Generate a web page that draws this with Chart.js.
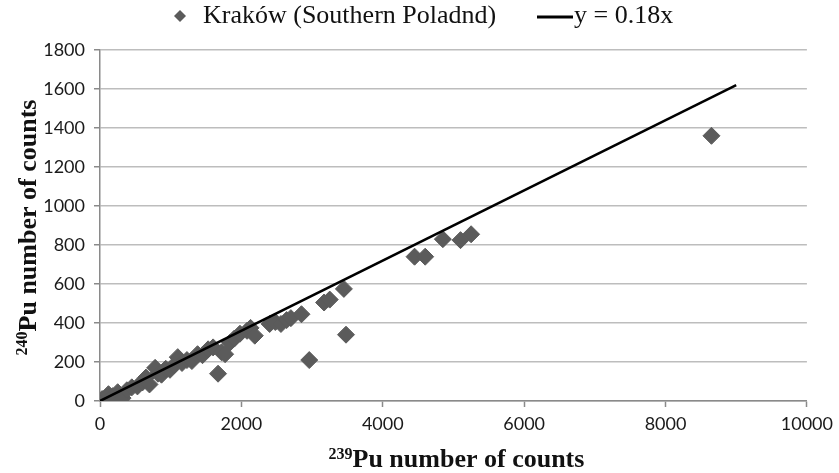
<!DOCTYPE html>
<html>
<head>
<meta charset="utf-8">
<script src="https://cdn.jsdelivr.net/npm/chart.js@4.4.1/dist/chart.umd.min.js"></script>
<style>
  html, body { margin: 0; padding: 0; background: #ffffff; }
  #wrap { width: 839px; height: 473px; }
</style>
</head>
<body>
<div id="wrap"><canvas id="c" width="839" height="473"></canvas></div>
<script>
// ---- data ----
const seriesName = "Kraków (Southern Poladnd)";
const lineName = "y = 0.18x";
const pu239 = [0, 30, 80, 120, 180, 250, 320, 380, 450, 530, 600, 650, 700, 780, 820, 870, 930, 990, 1050, 1100,
               1160, 1230, 1300, 1380, 1450, 1530, 1600, 1670, 1720, 1770, 1840, 1900, 1980, 2080, 2130, 2190,
               2400, 2480, 2560, 2640, 2700, 2850, 2960, 3170, 3250, 3450, 3480, 4450, 4600, 4850, 5100, 5250, 8650];
const pu240 = [0, 10, 15, 35, 25, 45, 15, 55, 70, 75, 95, 120, 85, 170, 140, 135, 165, 160, 185, 225,
               195, 210, 205, 240, 235, 265, 275, 140, 250, 240, 300, 320, 345, 360, 375, 335,
               395, 405, 395, 415, 425, 445, 210, 505, 520, 575, 340, 740, 740, 830, 825, 855, 1360];
const fitX = [0, 9000];
const fitY = [0, 1620];
const xTickValues = [0, 2000, 4000, 6000, 8000, 10000];
const yTickValues = [0, 200, 400, 600, 800, 1000, 1200, 1400, 1600, 1800];
const xTitleSup = "239", xTitleMain = "Pu number of counts";
const yTitleSup = "240", yTitleMain = "Pu number of counts";

const pointColor = '#5b5b5b';

const points = pu239.map((x, i) => ({ x: x, y: pu240[i] }));
const fitPoints = fitX.map((x, i) => ({ x: x, y: fitY[i] }));

const decorPlugin = {
  id: 'decor',
  afterDraw(chart) {
    const ctx = chart.ctx;
    const area = chart.chartArea;
    ctx.save();
    // legend
    const ly = 16;
    ctx.fillStyle = pointColor;
    ctx.beginPath();
    ctx.moveTo(180, ly - 6); ctx.lineTo(186, ly); ctx.lineTo(180, ly + 6); ctx.lineTo(174, ly);
    ctx.closePath(); ctx.fill();
    ctx.font = "26px 'Liberation Serif'";
    ctx.fillStyle = '#111';
    ctx.textBaseline = 'middle';
    ctx.textAlign = 'left';
    ctx.fillText(seriesName, 203, ly);
    ctx.strokeStyle = '#000';
    ctx.lineWidth = 3;
    ctx.beginPath(); ctx.moveTo(537, ly + 1); ctx.lineTo(573, ly + 1); ctx.stroke();
    ctx.fillText(lineName, 574, ly);

    // x title
    ctx.textBaseline = 'alphabetic';
    const supFont = "bold 16px 'Liberation Serif'";
    const mainFont = "bold 26px 'Liberation Serif'";
    ctx.font = supFont; const sw = ctx.measureText(xTitleSup).width;
    ctx.font = mainFont; const mw = ctx.measureText(xTitleMain).width;
    const cx = (area.left + area.right) / 2 + 3;
    let sx = cx - (sw + mw) / 2;
    ctx.fillStyle = '#111';
    ctx.font = supFont; ctx.fillText(xTitleSup, sx, 459);
    ctx.font = mainFont; ctx.fillText(xTitleMain, sx + sw, 467);

    // y title (rotated)
    ctx.save();
    ctx.translate(36, (area.top + area.bottom) / 2 + 2);
    ctx.rotate(-Math.PI / 2);
    ctx.font = supFont; const sw2 = ctx.measureText(yTitleSup).width;
    ctx.font = mainFont; const mw2 = ctx.measureText(yTitleMain).width;
    let s2 = -(sw2 + mw2) / 2;
    ctx.font = supFont; ctx.fillText(yTitleSup, s2, -9);
    ctx.font = mainFont; ctx.fillText(yTitleMain, s2 + sw2, 0);
    ctx.restore();
    ctx.restore();
  }
};

new Chart(document.getElementById('c'), {
  type: 'scatter',
  data: {
    datasets: [
      {
        label: lineName,
        data: fitPoints,
        showLine: true,
        borderColor: '#000',
        borderWidth: 2.5,
        pointRadius: 0,
        pointHoverRadius: 0,
        fill: false
      },
      {
        label: seriesName,
        data: points,
        pointStyle: 'rectRot',
        pointRadius: 8.5,
        pointHoverRadius: 8.5,
        backgroundColor: pointColor,
        borderColor: pointColor,
        borderWidth: 1
      }
    ]
  },
  options: {
    responsive: false,
    devicePixelRatio: 1,
    animation: false,
    events: [],
    layout: { padding: { top: 50, right: 31, bottom: 0, left: 0 } },
    plugins: {
      legend: { display: false },
      tooltip: { enabled: false }
    },
    scales: {
      x: {
        type: 'linear',
        min: 0, max: 10000,
        afterFit(scale) { scale.height = 72; },
        afterBuildTicks(scale) { scale.ticks = xTickValues.map(v => ({ value: v })); },
        grid: { drawOnChartArea: false, drawTicks: true, tickLength: 6, tickColor: '#8a8a8a', tickWidth: 1.5 },
        border: { display: true, color: '#8a8a8a', width: 1.5 },
        ticks: { padding: 6, color: '#1a1a1a', font: { family: 'Lato', size: 18 }, callback: v => String(v) }
      },
      y: {
        type: 'linear',
        min: 0, max: 1800,
        afterFit(scale) { scale.width = 100; },
        afterBuildTicks(scale) { scale.ticks = yTickValues.map(v => ({ value: v })); },
        grid: { color: '#bdbdbd', lineWidth: 1.5, drawTicks: true, tickLength: 6, tickColor: '#8a8a8a', tickWidth: 1.5 },
        border: { display: true, color: '#8a8a8a', width: 1.5 },
        ticks: { padding: 9, color: '#1a1a1a', font: { family: 'Lato', size: 18 }, callback: v => String(v) }
      }
    }
  },
  plugins: [decorPlugin]
});
</script>
</body>
</html>
